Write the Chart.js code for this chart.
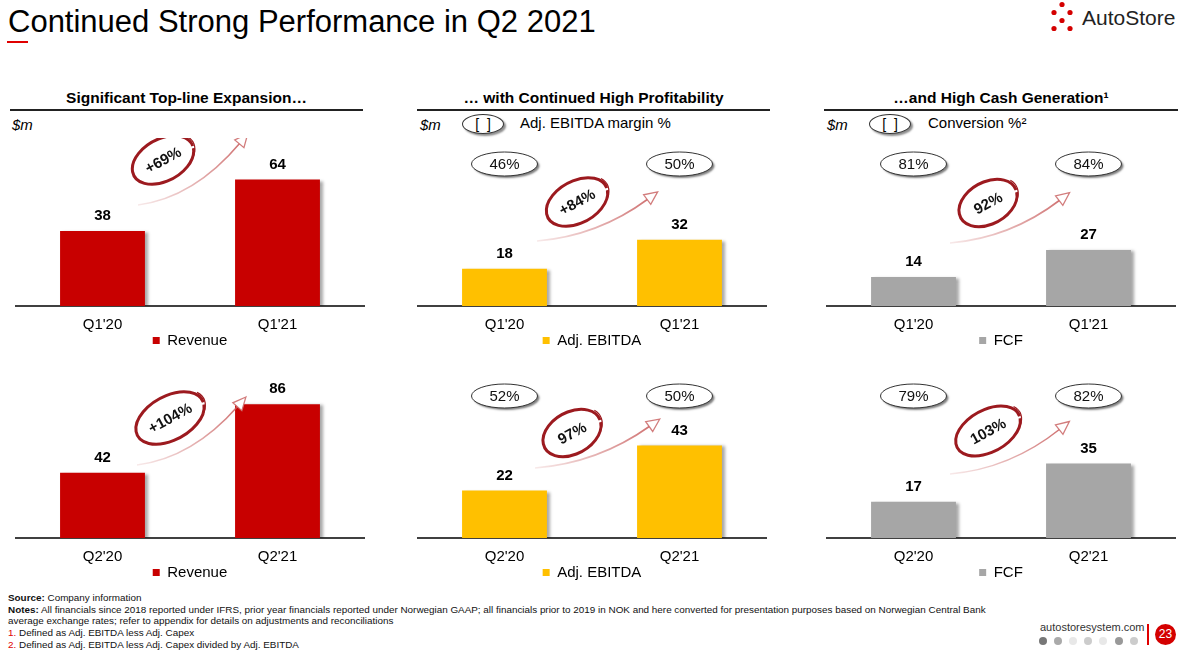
<!DOCTYPE html>
<html>
<head>
<meta charset="utf-8">
<script src="https://cdn.jsdelivr.net/npm/chart.js@4.4.0/dist/chart.umd.min.js"></script>
<style>
  html, body { margin: 0; padding: 0; background: #fff; }
  body { width: 1200px; height: 662px; position: relative; overflow: hidden; font-family: "Liberation Sans", Arial, sans-serif; color: #000; }
  .abs { position: absolute; white-space: nowrap; }
  .title { left: 8px; top: 6px; font-size: 31px; line-height: 31px; color: #000; }
  .title-mark { left: 7px; top: 41px; width: 21px; height: 1.5px; background: #e00000; }
  .head { top: 89px; font-size: 15.5px; line-height: 18px; font-weight: bold; text-align: center; }
  .rule { top: 109px; height: 2px; background: #222; }
  .unit { top: 116px; font-size: 15px; line-height: 18px; font-style: italic; }
  .key { top: 114px; width: 40px; height: 18px; border: 1px solid #333; border-radius: 50%; box-shadow: 2px 2px 2px rgba(0,0,0,0.45); font-size: 14px; line-height: 18px; text-align: center; background: #fff; }
  .keytext { top: 114px; font-size: 15px; line-height: 18px; }
  .chartbox { position: absolute; width: 350px; height: 220px; }
  .foot { left: 8px; font-size: 9.9px; line-height: 11px; color: #111; }
  .red { color: #e00000; }
  .dot { position: absolute; width: 8px; height: 8px; border-radius: 50%; top: 637px; }
</style>
</head>
<body>
<div class="abs title">Continued Strong Performance in Q2 2021</div>
<div class="abs title-mark"></div>

<!-- logo -->
<div class="abs" style="left:1050px;top:0;width:26px;height:32px;">
  <svg width="26" height="32">
    <circle cx="12" cy="4.5" r="2.6" fill="#d40000"/>
    <circle cx="4" cy="12.5" r="2.6" fill="#d40000"/>
    <circle cx="20" cy="12.5" r="2.6" fill="#d40000"/>
    <circle cx="12" cy="20.5" r="2.6" fill="#d40000"/>
    <circle cx="4" cy="28.5" r="2.6" fill="#d40000"/>
    <circle cx="20" cy="28.5" r="2.6" fill="#d40000"/>
  </svg>
</div>
<div class="abs" style="left:1082px;top:6px;font-size:21px;line-height:24px;color:#222;">AutoStore</div>

<!-- headings -->
<div class="abs head" style="left:10px;width:353px;">Significant Top-line Expansion…</div>
<div class="abs head" style="left:417px;width:353px;">… with Continued High Profitability</div>
<div class="abs head" style="left:824px;width:354px;">…and High Cash Generation¹</div>
<div class="abs rule" style="left:10px;width:353px;"></div>
<div class="abs rule" style="left:417px;width:353px;"></div>
<div class="abs rule" style="left:824px;width:354px;"></div>

<div class="abs unit" style="left:12px;">$m</div>
<div class="abs unit" style="left:420px;">$m</div>
<div class="abs unit" style="left:827px;">$m</div>
<div class="abs key" style="left:462px;">[&nbsp;&nbsp;]</div>
<div class="abs keytext" style="left:520px;">Adj. EBITDA margin %</div>
<div class="abs key" style="left:869px;">[&nbsp;&nbsp;]</div>
<div class="abs keytext" style="left:928px;">Conversion %²</div>

<!-- charts -->
<div class="chartbox" style="left:15px;top:138px;"><canvas id="c1"></canvas></div>
<div class="chartbox" style="left:417px;top:138px;"><canvas id="c2"></canvas></div>
<div class="chartbox" style="left:826px;top:138px;"><canvas id="c3"></canvas></div>
<div class="chartbox" style="left:15px;top:370px;"><canvas id="c4"></canvas></div>
<div class="chartbox" style="left:417px;top:370px;"><canvas id="c5"></canvas></div>
<div class="chartbox" style="left:826px;top:370px;"><canvas id="c6"></canvas></div>

<!-- footer -->
<div class="abs foot" style="top:592px;"><b>Source:</b> Company information</div>
<div class="abs foot" style="top:604px;"><b>Notes:</b> All financials since 2018 reported under IFRS, prior year financials reported under Norwegian GAAP; all financials prior to 2019 in NOK and here converted for presentation purposes based on Norwegian Central Bank</div>
<div class="abs foot" style="top:615px;">average exchange rates; refer to appendix for details on adjustments and reconciliations</div>
<div class="abs foot" style="top:627px;"><span class="red">1.</span> Defined as Adj. EBITDA less Adj. Capex</div>
<div class="abs foot" style="top:639px;"><span class="red">2.</span> Defined as Adj. EBITDA less Adj. Capex divided by Adj. EBITDA</div>

<div class="abs" style="left:1040px;top:621px;font-size:11px;line-height:13px;color:#333;">autostoresystem.com</div>
<div class="dot" style="left:1039px;background:#777;"></div>
<div class="dot" style="left:1054px;background:#aaa;"></div>
<div class="dot" style="left:1069px;background:#e8e8e8;"></div>
<div class="dot" style="left:1084px;background:#ccc;"></div>
<div class="dot" style="left:1099px;background:#e8e8e8;"></div>
<div class="dot" style="left:1115px;background:#999;"></div>
<div class="dot" style="left:1130px;background:#ccc;"></div>
<div class="abs" style="left:1147px;top:624px;width:1.5px;height:21px;background:#e00000;"></div>
<div class="abs" style="left:1155px;top:624px;width:21px;height:21px;border-radius:50%;background:#d40000;color:#fff;font-size:12px;line-height:21px;text-align:center;">23</div>

<script>
// ---- data ----
const q1Labels = ["Q1'20", "Q1'21"];
const q2Labels = ["Q2'20", "Q2'21"];
const revenueQ1 = [38, 64];
const revenueQ2 = [42, 86];
const ebitdaQ1 = [18, 32];
const ebitdaQ2 = [22, 43];
const fcfQ1 = [14, 27];
const fcfQ2 = [17, 35];
const marginQ1 = ["46%", "50%"];
const marginQ2 = ["52%", "50%"];
const conversionQ1 = ["81%", "84%"];
const conversionQ2 = ["79%", "82%"];
const growthLabels = ["+69%", "+104%", "+84%", "97%", "92%", "103%"];

const FONT = '"Liberation Sans", Arial, sans-serif';

// bar drop shadow on the right side
const barShadow = {
  id: 'barShadow',
  beforeDatasetDraw(chart) {
    const ctx = chart.ctx;
    ctx.save();
    ctx.shadowColor = 'rgba(0,0,0,0.35)';
    ctx.shadowOffsetX = 3;
    ctx.shadowOffsetY = 1;
    ctx.shadowBlur = 3;
  },
  afterDatasetDraw(chart) {
    chart.ctx.restore();
  }
};

// numbers above the bars
const valueLabels = {
  id: 'valueLabels',
  afterDatasetsDraw(chart) {
    const ctx = chart.ctx;
    const ds = chart.data.datasets[0];
    ctx.save();
    ctx.font = 'bold 15px ' + FONT;
    ctx.fillStyle = '#000';
    ctx.textAlign = 'center';
    ctx.textBaseline = 'middle';
    chart.getDatasetMeta(0).data.forEach((bar, i) => {
      ctx.fillText(ds.data[i], bar.x, bar.y - 15);
    });
    ctx.restore();
  }
};

// margin bubbles, growth ring and arrow
const callouts = {
  id: 'callouts',
  afterDraw(chart, args, opts) {
    const ctx = chart.ctx;
    const area = chart.chartArea;
    const L = area.left, B = area.bottom;

    if (opts.bubbles) {
      opts.bubbles.forEach((txt, i) => {
        const x = chart.scales.x.getPixelForValue(i);
        const y = B - 142;
        ctx.save();
        ctx.shadowColor = 'rgba(0,0,0,0.5)';
        ctx.shadowOffsetX = 2;
        ctx.shadowOffsetY = 2;
        ctx.shadowBlur = 2;
        ctx.beginPath();
        ctx.ellipse(x, y, 33, 12, 0, 0, Math.PI * 2);
        ctx.fillStyle = '#fff';
        ctx.fill();
        ctx.shadowColor = 'transparent';
        ctx.lineWidth = 1;
        ctx.strokeStyle = '#333';
        ctx.stroke();
        ctx.fillStyle = '#111';
        ctx.font = '15px ' + FONT;
        ctx.textAlign = 'center';
        ctx.textBaseline = 'middle';
        ctx.fillText(txt, x, y + 1);
        ctx.restore();
      });
    }

    // arrow
    const [ax1, ay1, ax2, ay2] = opts.arrow;
    const x1 = L + ax1, y1 = B + ay1, x2 = L + ax2, y2 = B + ay2;
    const cx = x1 + 0.55 * (x2 - x1), cy = y1 - 0.12 * (y1 - y2);
    ctx.save();
    const grad = ctx.createLinearGradient(x1, y1, x2, y2);
    grad.addColorStop(0, 'rgba(205,110,110,0.15)');
    grad.addColorStop(1, 'rgba(200,90,90,0.85)');
    ctx.strokeStyle = grad;
    ctx.lineWidth = 1.6;
    ctx.beginPath();
    ctx.moveTo(x1, y1);
    ctx.quadraticCurveTo(cx, cy, x2, y2);
    ctx.stroke();
    const ang = Math.atan2(y2 - cy, x2 - cx);
    ctx.translate(x2, y2);
    ctx.rotate(ang);
    ctx.beginPath();
    ctx.moveTo(12, 0);
    ctx.lineTo(-1, -6);
    ctx.lineTo(-1, 6);
    ctx.closePath();
    ctx.fillStyle = '#fff';
    ctx.fill();
    ctx.strokeStyle = 'rgba(205,110,110,0.9)';
    ctx.lineWidth = 1.3;
    ctx.stroke();
    ctx.restore();

    // growth ring
    const [ex, ey, rx, ry] = opts.ring;
    ctx.save();
    ctx.translate(L + ex, B + ey);
    ctx.rotate(-0.5);
    ctx.strokeStyle = '#9c1a1f';
    ctx.lineWidth = 3;
    ctx.beginPath();
    ctx.ellipse(0, 0, rx, ry, 0, 0.2, Math.PI * 2 + 0.1);
    ctx.stroke();
    ctx.lineWidth = 1.2;
    ctx.beginPath();
    ctx.ellipse(1, -1, rx + 1, ry, 0, -0.4, 0.6);
    ctx.stroke();
    ctx.fillStyle = '#111';
    ctx.font = 'bold 15px ' + FONT;
    ctx.textAlign = 'center';
    ctx.textBaseline = 'middle';
    ctx.fillText(opts.growth, 0, 1);
    ctx.restore();
  }
};

function makeChart(id, labels, values, name, color, yMax, callout) {
  return new Chart(document.getElementById(id), {
    type: 'bar',
    data: {
      labels: labels,
      datasets: [{
        label: name,
        data: values,
        backgroundColor: color,
        borderWidth: 0,
        barPercentage: 0.97,
        categoryPercentage: 0.5
      }]
    },
    options: {
      responsive: true,
      maintainAspectRatio: false,
      animation: false,
      layout: { padding: 0 },
      plugins: {
        legend: {
          display: true,
          position: 'bottom',
          labels: { boxWidth: 7, boxHeight: 7, padding: 0, color: '#000', font: { size: 15, family: FONT } }
        },
        tooltip: { enabled: false },
        callouts: callout
      },
      scales: {
        x: {
          grid: { display: false, drawTicks: false },
          border: { display: true, color: '#404040', width: 2 },
          ticks: { color: '#000', padding: 10, font: { size: 15, family: FONT } },
          afterFit(scale) { scale.height = scale.height - 11; }
        },
        y: { display: false, min: 0, max: yMax }
      }
    },
    plugins: [barShadow, valueLabels, callouts]
  });
}

makeChart('c1', q1Labels, revenueQ1, 'Revenue', '#c80000', 85,
  { growth: growthLabels[0], ring: [148, -146, 33, 21], arrow: [123, -101, 225, -163] });
makeChart('c2', q1Labels, ebitdaQ1, 'Adj. EBITDA', '#ffc000', 81,
  { bubbles: marginQ1, growth: growthLabels[2], ring: [160, -104, 33, 21], arrow: [120, -65, 231, -107] });
makeChart('c3', q1Labels, fcfQ1, 'FCF', '#a6a6a6', 81,
  { bubbles: conversionQ1, growth: growthLabels[4], ring: [162, -103, 31, 21], arrow: [124, -63, 234, -106] });
makeChart('c4', q2Labels, revenueQ2, 'Revenue', '#c80000', 108,
  { growth: growthLabels[1], ring: [155, -120, 37, 22], arrow: [122, -73, 223, -132] });
makeChart('c5', q2Labels, ebitdaQ2, 'Adj. EBITDA', '#ffc000', 78,
  { bubbles: marginQ2, growth: growthLabels[3], ring: [155, -105, 31, 21], arrow: [118, -70, 233, -112] });
makeChart('c6', q2Labels, fcfQ2, 'FCF', '#a6a6a6', 79,
  { bubbles: conversionQ2, growth: growthLabels[5], ring: [162, -107, 35, 21], arrow: [124, -64, 234, -109] });
</script>
</body>
</html>
